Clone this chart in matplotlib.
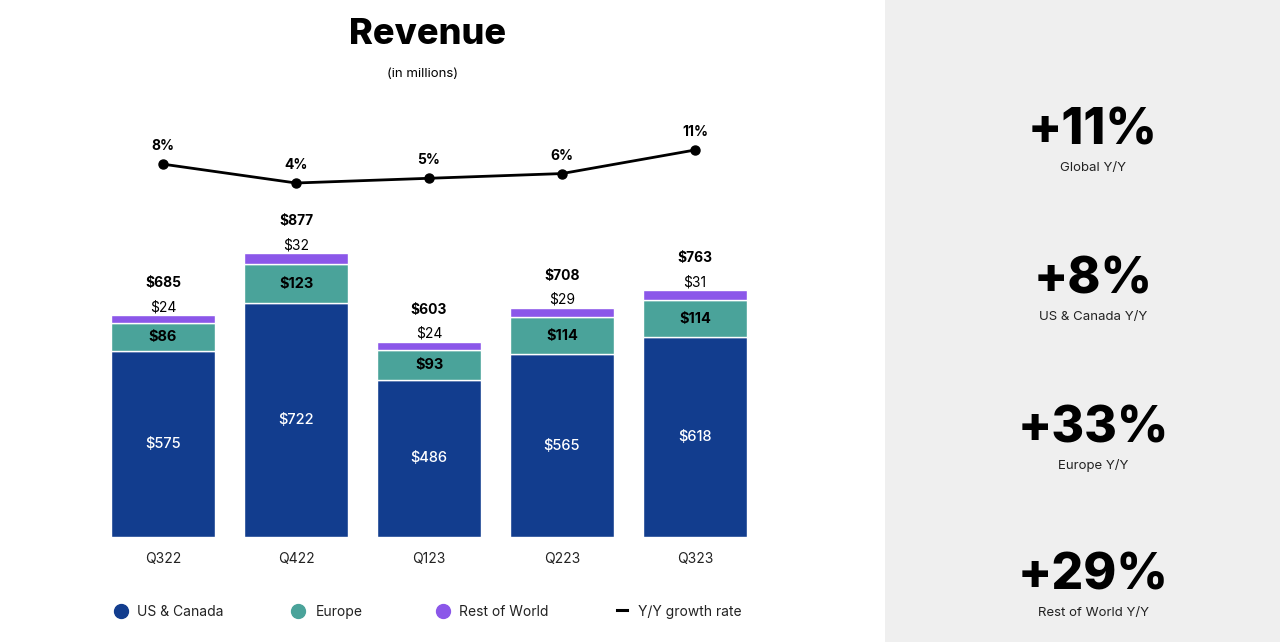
import matplotlib
matplotlib.use("Agg")
import matplotlib.pyplot as plt
from matplotlib.patches import Rectangle
from matplotlib.lines import Line2D

plt.rcParams['font.family'] = ['Inter', 'DejaVu Sans']

quarters = ["Q322", "Q422", "Q123", "Q223", "Q323"]
us_canada = [575, 722, 486, 565, 618]
europe = [86, 123, 93, 114, 114]
rest_world = [24, 32, 24, 29, 31]
totals = [685, 877, 603, 708, 763]
growth = [8, 4, 5, 6, 11]

kpi_values = ["+11%", "+8%", "+33%", "+29%"]
kpi_labels = ["Global Y/Y", "US & Canada Y/Y", "Europe Y/Y", "Rest of World Y/Y"]

C_US = "#123D8E"
C_EU = "#4AA39A"
C_ROW = "#8B57E9"

W, H = 1280, 642
fig = plt.figure(figsize=(W / 100, H / 100), dpi=100)
fig.patch.set_facecolor("white")

# right grey panel
fig.patches.append(Rectangle((885 / W, 0), 1 - 885 / W, 1, transform=fig.transFigure,
                             facecolor="#EFEFEF", edgecolor="none", zorder=0))

def fx(px):
    return px / W

def fy(py):
    return 1 - py / H

# bar axes
left_px, right_px = 96.5, 761.5
bottom_px, top_px = 537, 213.5
ax = fig.add_axes([fx(left_px), fy(bottom_px), (right_px - left_px) / W, (bottom_px - top_px) / H])
ax.set_xlim(-0.5, 4.5)
ax.set_ylim(0, 1000)
ax.patch.set_alpha(0)
for s in ax.spines.values():
    s.set_visible(False)
ax.tick_params(left=False, labelleft=False, bottom=False)
x = list(range(len(quarters)))
ax.set_xticks(x)
ax.set_xticklabels(quarters, fontsize=10, color="#222222")
ax.tick_params(axis="x", pad=7)

bw = 0.78
ax.bar(x, us_canada, width=bw, color=C_US, edgecolor="white", linewidth=1)
bot2 = us_canada
ax.bar(x, europe, width=bw, bottom=bot2, color=C_EU, edgecolor="white", linewidth=1)
bot3 = [a + b for a, b in zip(us_canada, europe)]
ax.bar(x, rest_world, width=bw, bottom=bot3, color=C_ROW, edgecolor="white", linewidth=1)

for i in x:
    ax.text(i, us_canada[i] / 2, f"${us_canada[i]}", ha="center", va="center",
            color="white", fontsize=10.5, fontweight="medium")
    ax.text(i, us_canada[i] + europe[i] / 2, f"${europe[i]}", ha="center", va="center",
            color="black", fontsize=10.5, fontweight="bold")
    top = bot3[i] + rest_world[i]
    ax.text(i, top + 25, f"${rest_world[i]}", ha="center", va="center",
            color="black", fontsize=10, clip_on=False)
    ax.text(i, top + 99, f"${totals[i]}", ha="center", va="center",
            color="black", fontsize=10, fontweight="bold", clip_on=False)

# growth line axes
lt, lb = 100, 250
ax2 = fig.add_axes([fx(left_px), fy(lb), (right_px - left_px) / W, (lb - lt) / H])
ax2.set_xlim(-0.5, 4.5)
ppp = 33 / 7.0
ax2.set_ylim(4 - (lb - 183) / ppp, 4 + (183 - lt) / ppp)
ax2.axis("off")
ax2.plot(x, growth, color="black", linewidth=2, marker="o", markersize=6.5)
for i in x:
    ax2.text(i, growth[i] + 18 / ppp, f"{growth[i]}%", ha="center", va="center",
             fontsize=10, fontweight="bold")

# titles
fig.text(fx(428), fy(34), "Revenue", ha="center", va="center", fontsize=26, fontweight="heavy")
fig.text(fx(423), fy(74), "(in millions)", ha="center", va="center", fontsize=9.5)

# legend
leg_items = [(121, 137, "US & Canada", C_US, "o"), (298, 316, "Europe", C_EU, "o"),
             (443, 459, "Rest of World", C_ROW, "o"), (622, 638, "Y/Y growth rate", "black", "_")]
for mx, tx, lab, col, mk in leg_items:
    if mk == "o":
        fig.add_artist(Line2D([fx(mx)], [fy(611)], marker="o", markersize=10, color=col,
                              linestyle="none", transform=fig.transFigure))
    else:
        fig.add_artist(Line2D([fx(mx - 5), fx(mx + 5)], [fy(610), fy(610)], color=col,
                              linewidth=2.2, transform=fig.transFigure))
    fig.text(fx(tx), fy(612), lab, ha="left", va="center", fontsize=10, color="#222222")

# KPI panel
kpi_y = [131, 280, 429, 576]
for v, lab, yy in zip(kpi_values, kpi_labels, kpi_y):
    fig.text(fx(1093), fy(yy), v, ha="center", va="center", fontsize=36, fontweight="heavy")
    fig.text(fx(1093), fy(yy + 37), lab, ha="center", va="center", fontsize=9.5, color="#222222")

fig.savefig("out.png", dpi=100)
